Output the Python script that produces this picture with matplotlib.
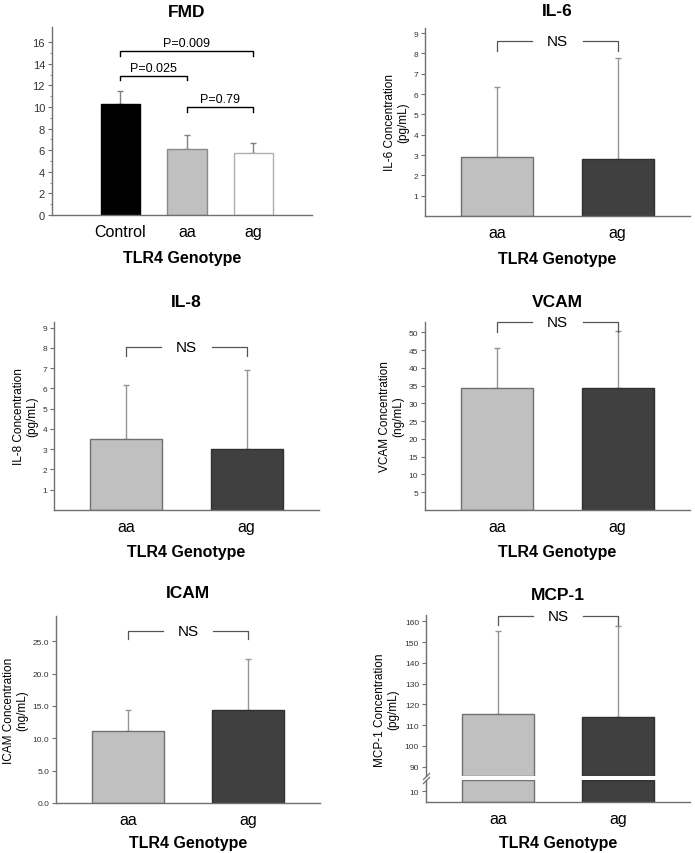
import numpy as np
import matplotlib
matplotlib.use("Agg")
import matplotlib.pyplot as plt

plt.rcParams['font.family'] = ['Liberation Sans', 'DejaVu Sans']

# ---- data ----
fmd_groups = ['Control', 'aa', 'ag']
fmd_mean = [10.3, 6.15, 5.7]
fmd_upper = [11.5, 7.4, 6.7]
fmd_pairs = [(0, 2), (0, 1), (1, 2)]
fmd_pvals = ['P=0.009', 'P=0.025', 'P=0.79']
fmd_bracket_y = [15.2, 12.9, 10.0]

genotypes = ['aa', 'ag']
il6_mean = [2.9, 2.82]
il6_upper = [6.35, 7.75]
il8_mean = [3.5, 3.0]
il8_upper = [6.15, 6.9]
vcam_mean = [34.2, 34.4]
vcam_upper = [45.6, 50.5]
icam_mean = [11.15, 14.45]
icam_upper = [14.35, 22.2]
mcp1_mean = [115.2, 114.0]
mcp1_upper = [155.3, 157.5]

W, H = 695, 854
fig = plt.figure(figsize=(W / 100, H / 100), dpi=100)

AX_COL = '#707070'
ERR_COL = '#959595'
LIGHT = '#c0c0c0'
DARK = '#404040'


def rect(l, t, r, b):
    return [l / W, 1 - b / H, (r - l) / W, (b - t) / H]


def style(ax, ticksize=6):
    for s in ['top', 'right']:
        ax.spines[s].set_visible(False)
    for s in ['left', 'bottom']:
        ax.spines[s].set_color(AX_COL)
        ax.spines[s].set_linewidth(1.0)
    ax.tick_params(axis='y', colors=AX_COL, labelcolor='#333333', labelsize=ticksize,
                   length=3, width=0.8, pad=2)
    ax.tick_params(axis='x', length=0, labelsize=11.5, pad=6.5, labelcolor='black')


def add_title(ax, x, text, pad):
    ax.annotate(text, xy=(x, 1), xycoords=('data', 'axes fraction'), xytext=(0, pad),
                textcoords='offset points', ha='center', va='center',
                fontsize=12.5, fontweight='bold')


def ns_bracket(ax, y, leg):
    kw = dict(color='#555555', lw=0.9, clip_on=False)
    ax.plot([0, 0, 0.29], [leg, y, y], **kw)
    ax.plot([0.71, 1, 1], [y, y, leg], **kw)
    ax.text(0.5, y, 'NS', ha='center', va='center', fontsize=11)


def cyto_panel(box, mean, upper, ylim, ticks, labels, ylabel, title, ns_y, ns_leg, tpad, xpad=7):
    ax = fig.add_axes(rect(*box))
    x = np.arange(len(genotypes))
    ax.bar(x, mean, width=0.6, color=[LIGHT, DARK], edgecolor=['#707070', '#303030'],
           linewidth=1.0, zorder=2)
    yerr = [np.zeros(len(mean)), np.array(upper) - np.array(mean)]
    ax.errorbar(x, mean, yerr=yerr, fmt='none', ecolor=ERR_COL, elinewidth=1.0,
                capsize=2.2, capthick=1.0, zorder=1)
    ax.set_xlim(-0.6, 1.6)
    ax.set_ylim(*ylim)
    ax.set_yticks(ticks)
    ax.set_yticklabels(labels)
    ax.set_xticks(x)
    ax.set_xticklabels(genotypes)
    style(ax)
    ax.set_ylabel(ylabel, fontsize=8.5, linespacing=1.1, labelpad=3)
    ax.set_xlabel('TLR4 Genotype', fontsize=11.5, fontweight='bold', labelpad=xpad)
    ns_bracket(ax, ns_y, ns_leg)
    add_title(ax, 0.5, title, tpad)
    return ax


# ---- FMD ----
ax = fig.add_axes(rect(52, 28, 312, 216))
x = np.arange(len(fmd_groups))
ax.bar(x, fmd_mean, width=0.6, color=['black', LIGHT, 'white'],
       edgecolor=['black', '#8a8a8a', '#b0b0b0'], linewidth=1.0, zorder=2)
ax.errorbar(x, fmd_mean, yerr=[np.zeros(3), np.array(fmd_upper) - np.array(fmd_mean)],
            fmt='none', ecolor='#808080', elinewidth=1.0, capsize=2.5, capthick=1.0, zorder=1)
ax.set_xlim(-1.03, 2.88)
ax.set_ylim(0, 17.4)
ax.set_yticks(np.arange(0, 17, 2))
ax.set_yticks(np.arange(1, 17, 2), minor=True)
ax.set_xticks(x)
ax.set_xticklabels(fmd_groups)
style(ax, ticksize=8)
ax.tick_params(axis='y', which='minor', length=1.5, colors=AX_COL)
ax.set_xlabel('TLR4 Genotype', fontsize=11.5, fontweight='bold', labelpad=8)
for (a, b), p, y in zip(fmd_pairs, fmd_pvals, fmd_bracket_y):
    ax.plot([a, a, b, b], [y - 0.45, y, y, y - 0.45], color='black', lw=1.0, clip_on=False)
    ax.text((a + b) / 2, y + 0.15, p, ha='center', va='bottom', fontsize=9)
add_title(ax, 1.0, 'FMD', 11.5)

# ---- IL-6, IL-8, VCAM, ICAM ----
cyto_panel((425, 29, 690, 217), il6_mean, il6_upper, (0, 9.25), range(1, 10),
           [str(i) for i in range(1, 10)], 'IL-6 Concentration\n(pg/mL)', 'IL-6', 8.59, 8.1, 12.5,
           xpad=8)
cyto_panel((54, 323, 319, 511), il8_mean, il8_upper, (0, 9.28), range(1, 10),
           [str(i) for i in range(1, 10)], 'IL-8 Concentration\n(pg/mL)', 'IL-8', 8.04, 7.6, 14.6)
cyto_panel((425, 323, 690, 511), vcam_mean, vcam_upper, (0, 52.9), range(5, 51, 5),
           [str(i) for i in range(5, 51, 5)], 'VCAM Concentration\n(ng/mL)', 'VCAM', 52.8, 50.2, 15)
cyto_panel((56, 617, 320, 804), icam_mean, icam_upper, (0, 28.9), np.arange(0, 26, 5),
           ['%.1f' % v for v in np.arange(0, 26, 5)], 'ICAM Concentration\n(ng/mL)', 'ICAM',
           26.6, 25.35, 17, xpad=6)

# ---- MCP-1 with broken axis ----
up = fig.add_axes(rect(426, 616, 690, 776.7))
lo = fig.add_axes(rect(426, 781, 690, 803.3))
x = np.arange(len(genotypes))
up_lo, up_hi = 85.7, 163
lo_lo, lo_hi = 4.7, 15.4
up.bar(x, np.array(mcp1_mean) - up_lo, bottom=up_lo, width=0.6, color=[LIGHT, DARK],
       edgecolor=['#707070', '#303030'], linewidth=1.0, zorder=2)
up.errorbar(x, mcp1_mean, yerr=[np.zeros(2), np.array(mcp1_upper) - np.array(mcp1_mean)],
            fmt='none', ecolor=ERR_COL, elinewidth=1.0, capsize=2.2, capthick=1.0, zorder=1)
lo.bar(x, lo_hi - lo_lo, bottom=lo_lo, width=0.6, color=[LIGHT, DARK],
       edgecolor=['#707070', '#303030'], linewidth=1.0, zorder=2)
for a in (up, lo):
    a.set_xlim(-0.6, 1.6)
    style(a)
up.set_ylim(up_lo, up_hi)
up.set_yticks(range(90, 161, 10))
up.spines['bottom'].set_visible(False)
up.set_xticks([])
lo.set_ylim(lo_lo, lo_hi)
lo.set_yticks([10])
lo.set_xticks(x)
lo.set_xticklabels(genotypes)
lo.set_xlabel('TLR4 Genotype', fontsize=11.5, fontweight='bold', labelpad=6)
up.set_ylabel('MCP-1 Concentration\n(pg/mL)', fontsize=8.5, linespacing=1.1)
up.yaxis.set_label_coords(-0.103, 0.415)
mk = dict(marker=[(-1, -1), (1, 1)], markersize=5, linestyle='none', color=AX_COL,
          mec=AX_COL, mew=0.9, clip_on=False)
up.plot([0], [0], transform=up.transAxes, **mk)
lo.plot([0], [1], transform=lo.transAxes, **mk)
ns_bracket(up, 162.7, 158.4)
add_title(up, 0.5, 'MCP-1', 15)

fig.savefig('out.png', dpi=100)
